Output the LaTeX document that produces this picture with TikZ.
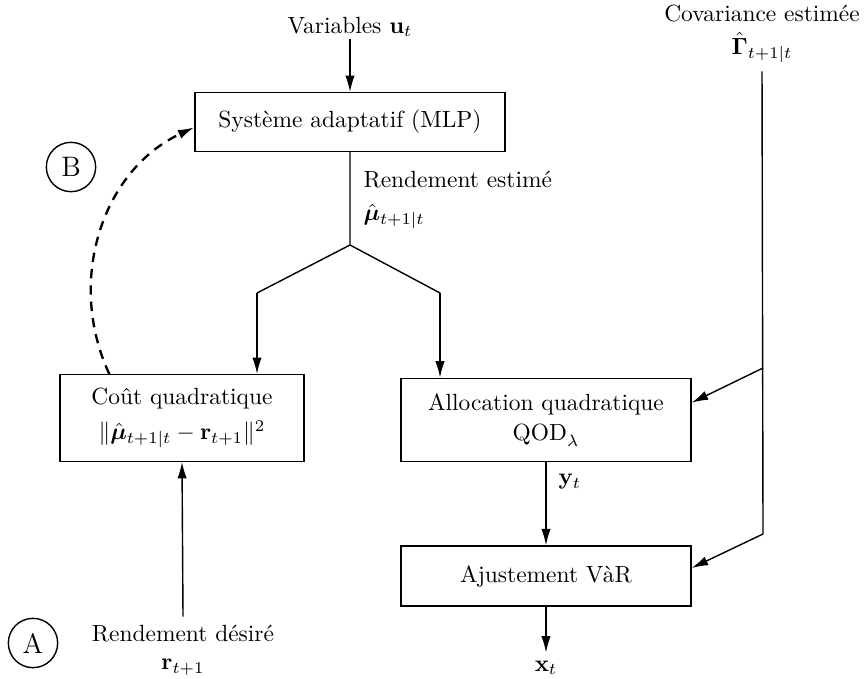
\documentclass[tikz,border=0pt]{standalone}
\usepackage{amsmath}
\usepackage{bm}
\usetikzlibrary{arrows.meta,positioning}
\tikzset{
    block/.style={
        rectangle,
        draw,
        line width=0.6pt,
        inner sep=2pt,
        align=center
    },
    tag/.style={
        circle,
        draw,
        line width=0.6pt,
        minimum size=0.74cm,
        inner sep=0pt,
        font=\large
    },
    feedback/.style={
        line width=1pt,
        dash pattern=on 4pt off 3pt
    },
    >={Latex[length=7pt,width=4pt]}
}

\begin{document}
\begin{tikzpicture}[x=0.015cm,y=-0.015cm,line width=0.6pt]
\useasboundingbox (0,0) rectangle (866,678);
\node[block,minimum width=4.65cm,minimum height=0.88cm] (mlp) at (350,122) {Système adaptatif (MLP)};
\node[block,minimum width=3.66cm,minimum height=1.3cm] (cout) at (182,418) {Coût quadratique\\[3pt] $\|\hat{\bm{\mu}}_{t+1|t}-\mathbf{r}_{t+1}\|^2$};
\node[block,minimum width=4.35cm,minimum height=1.25cm] (alloc) at (546,420) {Allocation quadratique\\[1pt] $\mathrm{QOD}_\lambda$};
\node[block,minimum width=4.35cm,minimum height=0.9cm] (ajust) at (546,576) {Ajustement VàR};
\node (var) at (350,27) {Variables $\mathbf{u}_t$};
\node[align=center] (cov) at (762,34) {Covariance estimée\\[2pt] $\hat{\bm{\Gamma}}_{t+1|t}$};
\node[anchor=west,align=left] (est) at (355,200) {Rendement estimé\\[2pt] $\hat{\bm{\mu}}_{t+1|t}$};
\node[align=center] (des) at (183,650) {Rendement désiré\\ $\mathbf{r}_{t+1}$};
\node[anchor=west] (yt) at (550,482) {$\mathbf{y}_t$};
\node (xt) at (546,668) {$\mathbf{x}_t$};
\node[tag] (A) at (33,643) {A};
\node[tag] (B) at (71,167) {B};
\coordinate (split) at (350,245);
\coordinate (lb) at (257,293);
\coordinate (rb) at (440,293);
\coordinate (c1) at (763,368);
\coordinate (c2) at (763,534);
\draw (mlp.south) -- (split) -- (lb);
\draw (split) -- (rb);
\draw (cov.south) -- (c2);
\path[->]
  ([yshift=0.1cm]var.south) edge (mlp.north)
  (lb) edge (lb |- cout.north)
  (rb) edge (rb |- alloc.north)
  (des.north) edge (cout.south)
  (alloc.south) edge (ajust.north)
  (ajust.south) edge (xt.north)
  (c1) edge ([yshift=0.26cm]alloc.east)
  (c2) edge ([yshift=0.12cm]ajust.east);
\draw[feedback,->] ([xshift=0.75cm]cout.north west) to[out=115,in=205] ([yshift=-0.08cm]mlp.west);
\end{tikzpicture}
\end{document}
